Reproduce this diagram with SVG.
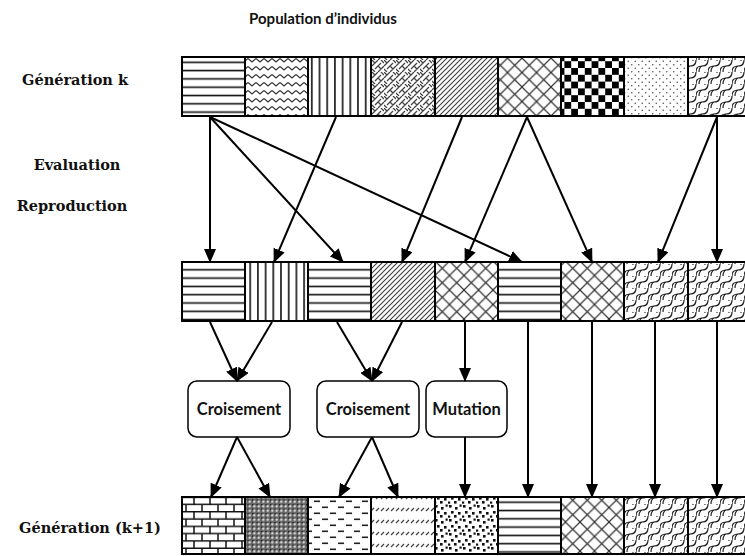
<svg xmlns="http://www.w3.org/2000/svg" width="745" height="556" viewBox="0 0 745 556">
<style>
.lbl{font-family:"DejaVu Serif","Liberation Serif",serif;font-weight:bold;font-size:14.5px;fill:#111;text-anchor:middle}
.ttl{font-family:Lato,"Open Sans",sans-serif;font-weight:bold;font-size:15px;fill:#111;text-anchor:middle}
.btx{font-family:Lato,"Open Sans",sans-serif;font-weight:bold;font-size:16.5px;fill:#111;text-anchor:middle}
.cell{stroke:#000;stroke-width:2}
.box{fill:#fff;stroke:#000;stroke-width:1.5}
.con line{stroke:#000;stroke-width:2;marker-end:url(#ah)}
</style>
<defs>
<marker id="ah" markerWidth="14" markerHeight="12" refX="13" refY="6" orient="auto" markerUnits="userSpaceOnUse"><path d="M0,0 L14,6 L0,12 z" fill="#000"/></marker>
<pattern id="hl" patternUnits="userSpaceOnUse" width="20" height="8.3"><rect width="20" height="8.3" fill="#fff"/><rect y="3.4" width="20" height="1.6" fill="#111"/></pattern>
<pattern id="vl" patternUnits="userSpaceOnUse" width="7.7" height="20"><rect width="7.7" height="20" fill="#fff"/><rect x="3" width="1.6" height="20" fill="#111"/></pattern>
<pattern id="zz" patternUnits="userSpaceOnUse" width="8" height="8"><rect width="8" height="8" fill="#fff"/><polyline points="0,2.5 4,6 8,2.5" fill="none" stroke="#333" stroke-width="1.2"/></pattern>
<pattern id="wv" patternUnits="userSpaceOnUse" width="12" height="12"><rect width="12" height="12" fill="#fff"/><path d="M0,6 L6,0 M3,9 L9,3 M6,12 L12,6 M0,0 L3,3 M6,6 L9,9 M9,0 L12,3 M0,9 L3,12" stroke="#444" stroke-width="1.3" fill="none"/></pattern>
<pattern id="dg" patternUnits="userSpaceOnUse" width="5" height="5"><rect width="5" height="5" fill="#fff"/><path d="M-1,6 L6,-1 M-1,1 L1,-1 M4,6 L6,4" stroke="#444" stroke-width="1.2"/></pattern>
<pattern id="dm" patternUnits="userSpaceOnUse" width="14.5" height="14.5"><rect width="14.5" height="14.5" fill="#fff"/><path d="M0,0 L14.5,14.5 M0,14.5 L14.5,0" stroke="#333" stroke-width="1.2"/></pattern>
<pattern id="ck" patternUnits="userSpaceOnUse" width="13.6" height="13.6"><rect width="13.6" height="13.6" fill="#fff"/><rect width="6.8" height="6.8" fill="#000"/><rect x="6.8" y="6.8" width="6.8" height="6.8" fill="#000"/></pattern>
<pattern id="dt" patternUnits="userSpaceOnUse" width="7" height="7"><rect width="7" height="7" fill="#fff"/><circle cx="1.75" cy="1.75" r="0.8" fill="#555"/><circle cx="5.25" cy="5.25" r="0.8" fill="#555"/></pattern>
<pattern id="sh" patternUnits="userSpaceOnUse" width="12" height="12"><rect width="12" height="12" fill="#fff"/><path d="M0,12 C0,8 2,6 6,6 C10,6 12,4 12,0 M6,6 C4,7 3,9 3,12 M-6,6 C-2,6 0,4 0,0 M0,0 L0,0 M9,0 C9,1 9,0 9,0" fill="none" stroke="#222" stroke-width="1.2"/></pattern>
<pattern id="br" patternUnits="userSpaceOnUse" width="16" height="14.6"><rect width="16" height="14.6" fill="#fff"/><path d="M0,0.8 H16 M0,8.1 H16 M2,0.8 V8.1 M10,8.1 V14.6" stroke="#111" stroke-width="1.5"/></pattern>
<pattern id="dn" patternUnits="userSpaceOnUse" width="4.5" height="4.5"><rect width="4.5" height="4.5" fill="#666"/><circle cx="2.25" cy="2.25" r="1.1" fill="#eee"/><rect width="1.2" height="1.2" fill="#111"/></pattern>
<pattern id="ds" patternUnits="userSpaceOnUse" width="16" height="12"><rect width="16" height="12" fill="#fff"/><rect x="2" y="2.5" width="6" height="1.6" fill="#222"/><rect x="10" y="8.5" width="6" height="1.6" fill="#222"/></pattern>
<pattern id="sd" patternUnits="userSpaceOnUse" width="5" height="12"><rect width="5" height="12" fill="#fff"/><path d="M1,7 L4,4" stroke="#444" stroke-width="1.2"/></pattern>
<pattern id="cf" patternUnits="userSpaceOnUse" width="14" height="14"><rect width="14" height="14" fill="#fff"/><g fill="#111"><rect x="1" y="1" width="2.6" height="2.6"/><rect x="7" y="3" width="2.6" height="2.6"/><rect x="3" y="7" width="2.6" height="2.6"/><rect x="10" y="8" width="2.6" height="2.6"/><rect x="6" y="11" width="2.6" height="2.6"/><rect x="11.5" y="0.5" width="2.2" height="2.2"/><rect x="0" y="11.5" width="2.2" height="2.2"/></g></pattern>
</defs>
<rect width="745" height="556" fill="#fff"/>
<text class="ttl" x="323" y="24">Population d’individus</text>
<text class="lbl" x="75" y="85">Génération k</text>
<text class="lbl" x="77" y="170">Evaluation</text>
<text class="lbl" x="72" y="211">Reproduction</text>
<text class="lbl" x="90" y="533">Génération (k+1)</text>
<g id="gen-k">
<rect class="cell" x="182" y="57" width="63" height="59" fill="url(#hl)"/>
<rect class="cell" x="245" y="57" width="63" height="59" fill="url(#zz)"/>
<rect class="cell" x="308" y="57" width="63" height="59" fill="url(#vl)"/>
<rect class="cell" x="371" y="57" width="64" height="59" fill="url(#wv)"/>
<rect class="cell" x="435" y="57" width="63" height="59" fill="url(#dg)"/>
<rect class="cell" x="498" y="57" width="63" height="59" fill="url(#dm)"/>
<rect class="cell" x="561" y="57" width="63" height="59" fill="url(#ck)"/>
<rect class="cell" x="624" y="57" width="64" height="59" fill="url(#dt)"/>
<rect class="cell" x="688" y="57" width="63" height="59" fill="url(#sh)"/>
</g>
<g id="reproduction">
<rect class="cell" x="182" y="262" width="63" height="59" fill="url(#hl)"/>
<rect class="cell" x="245" y="262" width="63" height="59" fill="url(#vl)"/>
<rect class="cell" x="308" y="262" width="63" height="59" fill="url(#hl)"/>
<rect class="cell" x="371" y="262" width="64" height="59" fill="url(#dg)"/>
<rect class="cell" x="435" y="262" width="63" height="59" fill="url(#dm)"/>
<rect class="cell" x="498" y="262" width="63" height="59" fill="url(#hl)"/>
<rect class="cell" x="561" y="262" width="63" height="59" fill="url(#dm)"/>
<rect class="cell" x="624" y="262" width="64" height="59" fill="url(#sh)"/>
<rect class="cell" x="688" y="262" width="63" height="59" fill="url(#sh)"/>
</g>
<g id="gen-k1">
<rect class="cell" x="182" y="497" width="63" height="57" fill="url(#br)"/>
<rect class="cell" x="245" y="497" width="63" height="57" fill="url(#dn)"/>
<rect class="cell" x="308" y="497" width="63" height="57" fill="url(#ds)"/>
<rect class="cell" x="371" y="497" width="64" height="57" fill="url(#sd)"/>
<rect class="cell" x="435" y="497" width="63" height="57" fill="url(#cf)"/>
<rect class="cell" x="498" y="497" width="63" height="57" fill="url(#hl)"/>
<rect class="cell" x="561" y="497" width="63" height="57" fill="url(#dm)"/>
<rect class="cell" x="624" y="497" width="64" height="57" fill="url(#sh)"/>
<rect class="cell" x="688" y="497" width="63" height="57" fill="url(#sh)"/>
</g>
<g id="croisement-1"><rect class="box" x="188" y="381" width="102" height="56" rx="9"/><text class="btx" x="239" y="415">Croisement</text></g>
<g id="croisement-2"><rect class="box" x="317" y="381" width="102" height="56" rx="9"/><text class="btx" x="368" y="415">Croisement</text></g>
<g id="mutation"><rect class="box" x="426" y="381" width="81" height="56" rx="9"/><text class="btx" x="466.5" y="415">Mutation</text></g>
<g id="connectors" class="con">
<line x1="210" y1="117" x2="210" y2="262"/>
<line x1="210" y1="117" x2="343" y2="262"/>
<line x1="210" y1="117" x2="522" y2="262"/>
<line x1="336" y1="117" x2="274" y2="262"/>
<line x1="462" y1="117" x2="402" y2="262"/>
<line x1="527" y1="117" x2="465" y2="262"/>
<line x1="527" y1="117" x2="592" y2="262"/>
<line x1="717" y1="117" x2="658" y2="262"/>
<line x1="717" y1="117" x2="717" y2="262"/>
<line x1="210" y1="322" x2="237" y2="381"/>
<line x1="272" y1="322" x2="237" y2="381"/>
<line x1="337" y1="322" x2="372" y2="381"/>
<line x1="402" y1="322" x2="372" y2="381"/>
<line x1="465" y1="322" x2="465" y2="381"/>
<line x1="237" y1="437" x2="211" y2="497"/>
<line x1="237" y1="437" x2="270" y2="497"/>
<line x1="372" y1="437" x2="339" y2="497"/>
<line x1="372" y1="437" x2="398" y2="497"/>
<line x1="465" y1="437" x2="465" y2="497"/>
<line x1="528" y1="322" x2="528" y2="497"/>
<line x1="592" y1="322" x2="592" y2="497"/>
<line x1="655" y1="322" x2="655" y2="497"/>
<line x1="717" y1="322" x2="717" y2="497"/>
</g>
</svg>
